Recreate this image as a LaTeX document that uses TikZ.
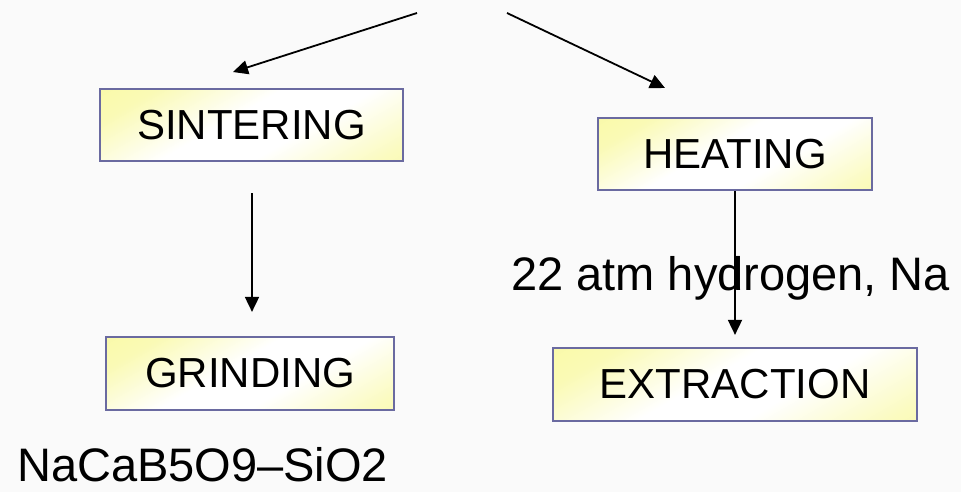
\documentclass[tikz,border=0pt]{standalone}
\usepackage{fontspec}
\setmainfont{Liberation Sans}
\usetikzlibrary{arrows.meta}
\definecolor{bgc}{RGB}{250,250,250}
\definecolor{yl}{RGB}{248,248,150}
\definecolor{bord}{RGB}{106,106,160}
\pgfdeclarehorizontalshading{ywy}{100bp}{color(0bp)=(yl); color(25bp)=(yl!70!white); color(45bp)=(white); color(60bp)=(white); color(80bp)=(yl!60!white); color(100bp)=(yl)}
\tikzset{
  stepbox/.style={draw=bord, line width=2.2bp, shading=ywy, shading angle=-60,
    inner sep=0pt, font=\fontsize{42bp}{50bp}\selectfont, text=black},
  conn/.style={line width=1.8bp, -{Triangle[length=15bp,width=14bp]}},
  big/.style={font=\fontsize{47bp}{56bp}\selectfont, inner sep=0pt, anchor=base west, text depth=0pt}
}
\begin{document}
\begin{tikzpicture}[x=1bp,y=-1bp]
\fill[bgc] (0,0) rectangle (961,492);
\useasboundingbox (0,0) rectangle (961,492);
\node[stepbox, minimum width=303bp, minimum height=72bp] (sint) at (251.5,125) {SINTERING};
\node[stepbox, minimum width=274bp, minimum height=72bp] (heat) at (735,154) {HEATING};
\node[stepbox, minimum width=288bp, minimum height=73bp] (grind) at (250,373.5) {GRINDING};
\node[stepbox, minimum width=364bp, minimum height=73bp] (extr) at (735,384.5) {EXTRACTION};
\node[big] (cond) at (511,291) {22 atm hydrogen, Na};
\node[big] (comp) at (17,481) {NaCaB5O9–SiO2};
\coordinate (tl) at (417,13);
\coordinate (tlend) at (233,72);
\coordinate (tr) at (507,13);
\coordinate (trend) at (665,88);
\draw[conn] (tl) -- (tlend);
\draw[conn] (tr) -- (trend);
\draw[conn, shorten <=31bp, shorten >=24bp] ([xshift=0.5bp]sint.south) -- ([xshift=0.5bp]sint.south |- grind.north);
\draw[conn, shorten >=12bp] (heat.south) -- (extr.north);
\end{tikzpicture}
\end{document}
